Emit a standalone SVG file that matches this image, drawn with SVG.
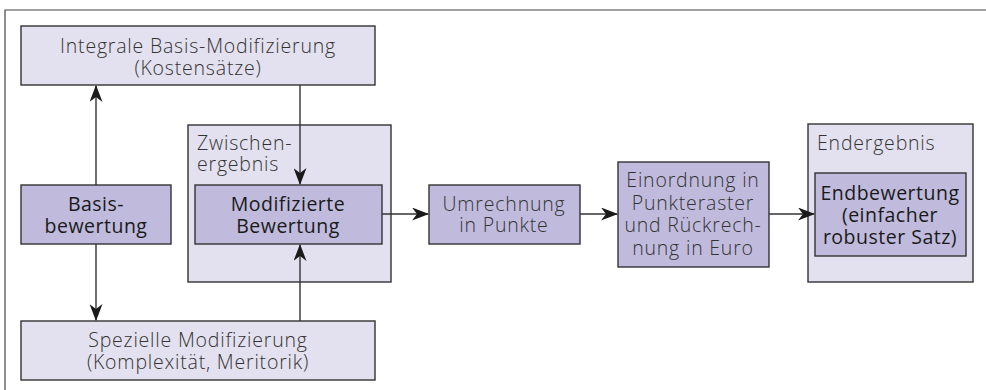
<svg xmlns="http://www.w3.org/2000/svg" width="986" height="390" viewBox="0 0 986 390">
<defs>
<marker id="ah" viewBox="0 0 17 13" refX="16" refY="6.5" markerWidth="17" markerHeight="13" markerUnits="userSpaceOnUse" orient="auto">
<path d="M0,0 L17,6.5 L0,13 L5,6.5 Z" fill="#1a1a1a"/>
</marker>
<style>
.light{fill:#e3e1ef;stroke:#333;stroke-width:1.4}
.dark{fill:#c0bbdd;stroke:#333;stroke-width:1.4}
.t{font-family:"Open Sans","Liberation Sans",sans-serif;font-weight:300;font-size:19.5px;letter-spacing:0.8px;fill:#333}
.b{font-family:"Open Sans","Liberation Sans",sans-serif;font-weight:500;font-size:19.5px;letter-spacing:0.5px;fill:#1a1a1a}
.c{text-anchor:middle}
.ln{stroke:#333;stroke-width:1.4;fill:none;marker-end:url(#ah)}
</style>
</defs>
<rect width="986" height="390" fill="#fff"/>
<path d="M5,390 V10 H986" fill="none" stroke="#444" stroke-width="1.2"/>
<g id="integrale">
<rect class="light" x="21" y="26" width="354" height="59"/>
<text class="t c" x="198" y="52.5">Integrale Basis-Modifizierung</text>
<text class="t c" x="198" y="74.5">(Kostensätze)</text>
</g>
<g id="zwischenergebnis">
<rect class="light" x="188" y="125" width="203" height="157"/>
<text class="t" x="197" y="150">Zwischen-</text>
<text class="t" x="197" y="171">ergebnis</text>
</g>
<g id="basis">
<rect class="dark" x="21" y="185" width="150" height="59"/>
<text class="b c" x="96" y="210.5">Basis-</text>
<text class="b c" x="96" y="233">bewertung</text>
</g>
<g id="modifizierte">
<rect class="dark" x="195" y="185" width="187" height="59"/>
<text class="b c" x="288" y="210.5">Modifizierte</text>
<text class="b c" x="288" y="233">Bewertung</text>
</g>
<g id="spezielle">
<rect class="light" x="21" y="321" width="354" height="59"/>
<text class="t c" x="198" y="347">Spezielle Modifizierung</text>
<text class="t c" x="198" y="368.5">(Komplexität, Meritorik)</text>
</g>
<g id="umrechnung">
<rect class="dark" x="429" y="185" width="151" height="59"/>
<text class="t c" x="504" y="211">Umrechnung</text>
<text class="t c" x="504" y="232">in Punkte</text>
</g>
<g id="einordnung">
<rect class="dark" x="618" y="162" width="151" height="105"/>
<text class="t c" x="693" y="187">Einordnung in</text>
<text class="t c" x="693" y="209.5">Punkteraster</text>
<text class="t c" x="693" y="232">und Rückrech-</text>
<text class="t c" x="693" y="254.5">nung in Euro</text>
</g>
<g id="endergebnis">
<rect class="light" x="808" y="124" width="165" height="158"/>
<text class="t" x="817" y="150">Endergebnis</text>
</g>
<g id="endbewertung">
<rect class="dark" x="815" y="173" width="151" height="83"/>
<text class="b c" x="890" y="200">Endbewertung</text>
<text class="b c" x="890" y="222">(einfacher</text>
<text class="b c" x="890" y="243.5">robuster Satz)</text>
</g>
<g id="connectors">
<line class="ln" x1="96" y1="185" x2="96" y2="86"/>
<line class="ln" x1="96" y1="244" x2="96" y2="320"/>
<line class="ln" x1="300" y1="85" x2="300" y2="184"/>
<line class="ln" x1="300" y1="321" x2="300" y2="245"/>
<line class="ln" x1="382" y1="214" x2="428" y2="214"/>
<line class="ln" x1="580" y1="214" x2="617" y2="214"/>
<line class="ln" x1="769" y1="214" x2="814" y2="214"/>
</g>
</svg>
